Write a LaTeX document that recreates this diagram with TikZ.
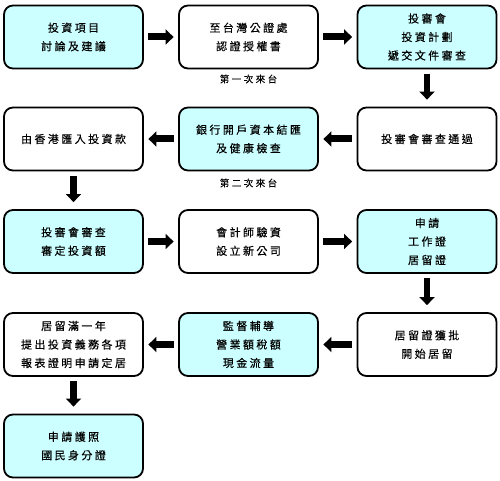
\documentclass[tikz,border=0pt]{standalone}
\usepackage{fontspec}
\newfontfamily\cjk[LetterSpace=22,FakeBold=0.25]{Noto Sans CJK TC}
\newfontfamily\cjksmall[LetterSpace=26,FakeBold=0.25]{Noto Sans CJK TC}
\usetikzlibrary{arrows.meta}
\definecolor{boxcyan}{RGB}{204,255,255}
\tikzset{
  stepbox/.style={draw=black, line width=1.8pt, rounded corners=9pt,
    minimum width=139pt, minimum height=63pt, align=center,
    font=\fontsize{11pt}{18.5pt}\cjk, inner sep=0pt, fill=white},
  cyanbox/.style={stepbox, fill=boxcyan},
  harrow/.style={line width=7pt, -{Triangle[length=8pt,width=15pt]},
    shorten <=4.5pt, shorten >=4.5pt},
  varrow/.style={line width=6.5pt, -{Triangle[length=8pt,width=15pt]},
    shorten <=4.5pt, shorten >=7pt},
  visit/.style={font=\fontsize{9.5pt}{11pt}\cjksmall, inner sep=0pt}
}
\begin{document}
\begin{tikzpicture}[x=1pt,y=-1pt]
\useasboundingbox (0,0) rectangle (500,481);
% row 1
\node[cyanbox] (a1) at (73.5,37) {投資項目\\討論及建議};
\node[stepbox] (a2) at (248.5,37) {至台灣公證處\\認證授權書};
\node[cyanbox] (a3) at (427,37) {投審會\\投資計劃\\遞交文件審查};
% row 2
\node[stepbox] (b3) at (427,139) {投審會審查通過};
\node[cyanbox] (b2) at (248.5,139) {銀行開戶資本結匯\\及健康檢查};
\node[stepbox] (b1) at (73.5,139) {由香港匯入投資款};
% row 3
\node[cyanbox] (c1) at (73.5,241.5) {投審會審查\\審定投資額};
\node[stepbox] (c2) at (248.5,241.5) {會計師驗資\\設立新公司};
\node[cyanbox] (c3) at (427,241.5) {申請\\工作證\\居留證};
% row 4
\node[stepbox] (d3) at (427,344.5) {居留證獲批\\開始居留};
\node[cyanbox] (d2) at (248.5,344.5) {監督輔導\\營業額稅額\\現金流量};
\node[stepbox] (d1) at (73.5,344.5) {居留滿一年\\提出投資義務各項\\報表證明申請定居};
% row 5
\node[cyanbox] (e1) at (73.5,446) {申請護照\\國民身分證};
% visit labels
\node[visit] (v1) at (248.5,79) {第一次來台};
\node[visit] (v2) at (248.5,183) {第二次來台};
% arrows
\draw[harrow] (a1.east) -- (a2.west);
\draw[harrow] (a2.east) -- (a3.west);
\draw[varrow] (a3.south) -- (b3.north);
\draw[harrow] (b3.west) -- (b2.east);
\draw[harrow] (b2.west) -- (b1.east);
\draw[varrow] (b1.south) -- (c1.north);
\draw[harrow] (c1.east) -- (c2.west);
\draw[harrow] (c2.east) -- (c3.west);
\draw[varrow] (c3.south) -- (d3.north);
\draw[harrow] (d3.west) -- (d2.east);
\draw[harrow] (d2.west) -- (d1.east);
\draw[varrow] (d1.south) -- (e1.north);
\end{tikzpicture}
\end{document}
